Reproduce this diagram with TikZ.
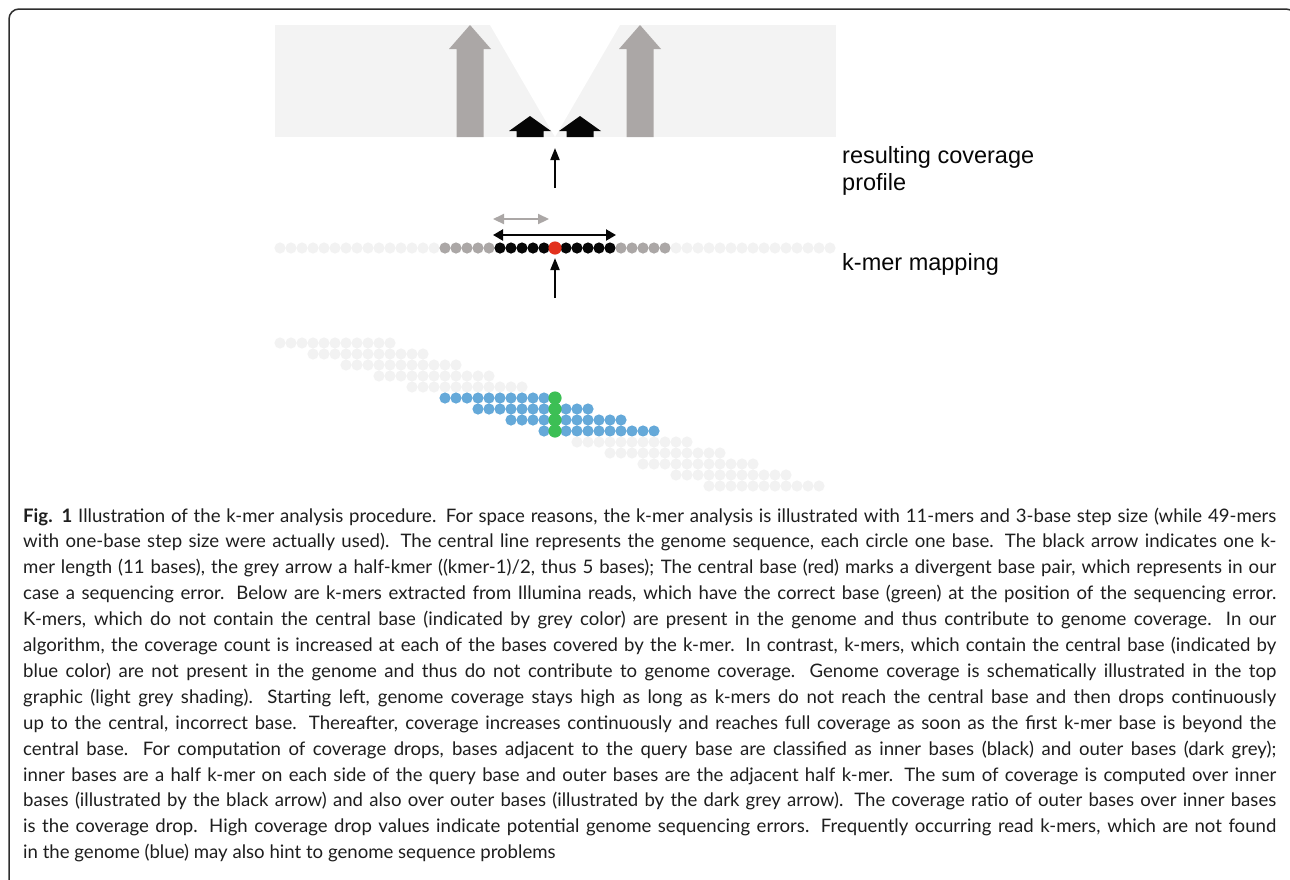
\documentclass[tikz,border=0pt]{standalone}
\usepackage{fontspec}
\setmainfont{Lato}
\newfontfamily\labfont{Liberation Sans}
\usetikzlibrary{arrows.meta}
\definecolor{lightdot}{HTML}{F2F2F2}
\definecolor{boxgrey}{HTML}{F3F3F3}
\definecolor{midgrey}{HTML}{ABA7A6}
\definecolor{nearblack}{HTML}{060606}
\definecolor{errred}{HTML}{E2311D}
\definecolor{kblue}{HTML}{65A9D9}
\definecolor{kgreen}{HTML}{3CBF55}
\definecolor{framegrey}{HTML}{2E2E2E}
\definecolor{captext}{HTML}{1E1E1E}
\newcommand{\capline}[2]{\node[capstyle] (cap#1) at (23,{522+25.9*(#1-1)}) {\makebox[1253pt][s]{#2}};}
\begin{document}
\begin{tikzpicture}[x=1pt,y=-1pt,
  capstyle/.style={anchor=base west, inner sep=0pt, font=\fontsize{18.6}{24}\selectfont\nonfrenchspacing, text=captext},
  labstyle/.style={anchor=base west, inner sep=0pt, font=\labfont\fontsize{23.5}{27}\selectfont, text=nearblack},
  uparrow/.style={line width=2pt, nearblack, -{Triangle[length=12pt,width=9pt]}},
  greyspan/.style={line width=2.2pt, midgrey, {Triangle[length=11pt,width=10pt]}-{Triangle[length=11pt,width=10pt]}},
  blackspan/.style={line width=2.2pt, nearblack, {Triangle[length=10pt,width=11pt]}-{Triangle[length=10pt,width=11pt]}}
]
\useasboundingbox (0,0) rectangle (1290,879);
% frame
\draw[framegrey, line width=1.5pt, rounded corners=10pt] (9,885) -- (9,9) -- (1296,9) -- (1296,885);

% ---- coverage profile ----
\fill[boxgrey] (274.5,25) rectangle (835.5,137);
\fill[white] (490,25) -- (555,137) -- (620,25) -- cycle;
\foreach \cx in {470,640}{
  \fill[midgrey] (\cx-13.5,137) -- (\cx-13.5,49) -- (\cx-21,49) -- (\cx,25) -- (\cx+21,49) -- (\cx+13.5,49) -- (\cx+13.5,137) -- cycle;
}
\foreach \cx in {530,580}{
  \fill[nearblack] (\cx-13.5,137) -- (\cx-13.5,131) -- (\cx-21,131) -- (\cx,116) -- (\cx+21,131) -- (\cx+13.5,131) -- (\cx+13.5,137) -- cycle;
}

% ---- arrows between panels ----
\coordinate (upA) at (555,188);
\coordinate (upB) at (555,148);
\draw[uparrow] (upA) -- (upB);
\coordinate (loA) at (555,298);
\coordinate (loB) at (555,258);
\draw[uparrow] (loA) -- (loB);

% ---- genome row ----
\foreach \i in {-25,...,25}{
  \pgfmathtruncatemacro{\ai}{abs(\i)}
  \ifnum\ai>10 \def\dc{lightdot}\else\ifnum\ai>5 \def\dc{midgrey}\else\def\dc{nearblack}\fi\fi
  \ifnum\ai>0 \fill[\dc] ({555+11*\i},248) circle (5.6);\fi
}
\fill[errred] (555,248) circle (6.6);

\coordinate (gsL) at (493,219);
\coordinate (gsR) at (549,219);
\draw[greyspan] (gsL) -- (gsR);
\coordinate (bsL) at (493,235);
\coordinate (bsR) at (616,235);
\draw[blackspan] (bsL) -- (bsR);

% ---- k-mers ----
\foreach \j in {0,...,13}{
  \pgfmathtruncatemacro{\st}{-25+3*\j}
  \pgfmathtruncatemacro{\en}{\st+10}
  \ifnum\j<5 \def\kc{lightdot}\else\ifnum\j<9 \def\kc{kblue}\else\def\kc{lightdot}\fi\fi
  \foreach \i in {\st,...,\en}{
    \fill[\kc] ({555+11*\i},{343+11*\j}) circle (5.6);
  }
}
\foreach \j in {5,...,8}{
  \fill[kgreen] (555,{343+11*\j}) circle (6.6);
}

% ---- labels ----
\node[labstyle] (lab1) at (842,163) {resulting coverage};
\node[labstyle] (lab2) at (842,190) {profile};
\node[labstyle] (lab3) at (842,270) {k-mer mapping};

% ---- caption ----
\capline{1}{\textbf{Fig. 1} Illustration of the k-mer analysis procedure. For space reasons, the k-mer analysis is illustrated with 11-mers and 3-base step size (while 49-mers}
\capline{2}{with one-base step size were actually used). The central line represents the genome sequence, each circle one base. The black arrow indicates one k-}
\capline{3}{mer length (11 bases), the grey arrow a half-kmer ((kmer-1)/2, thus 5 bases); The central base (red) marks a divergent base pair, which represents in our}
\capline{4}{case a sequencing error. Below are k-mers extracted from Illumina reads, which have the correct base (green) at the position of the sequencing error.}
\capline{5}{K-mers, which do not contain the central base (indicated by grey color) are present in the genome and thus contribute to genome coverage. In our}
\capline{6}{algorithm, the coverage count is increased at each of the bases covered by the k-mer. In contrast, k-mers, which contain the central base (indicated by}
\capline{7}{blue color) are not present in the genome and thus do not contribute to genome coverage. Genome coverage is schematically illustrated in the top}
\capline{8}{graphic (light grey shading). Starting left, genome coverage stays high as long as k-mers do not reach the central base and then drops continuously}
\capline{9}{up to the central, incorrect base. Thereafter, coverage increases continuously and reaches full coverage as soon as the first k-mer base is beyond the}
\capline{10}{central base. For computation of coverage drops, bases adjacent to the query base are classified as inner bases (black) and outer bases (dark grey);}
\capline{11}{inner bases are a half k-mer on each side of the query base and outer bases are the adjacent half k-mer. The sum of coverage is computed over inner}
\capline{12}{bases (illustrated by the black arrow) and also over outer bases (illustrated by the dark grey arrow). The coverage ratio of outer bases over inner bases}
\capline{13}{is the coverage drop. High coverage drop values indicate potential genome sequencing errors. Frequently occurring read k-mers, which are not found}
\node[capstyle] (cap14) at (23,{522+25.9*13}) {in the genome (blue) may also hint to genome sequence problems};
\end{tikzpicture}
\end{document}
